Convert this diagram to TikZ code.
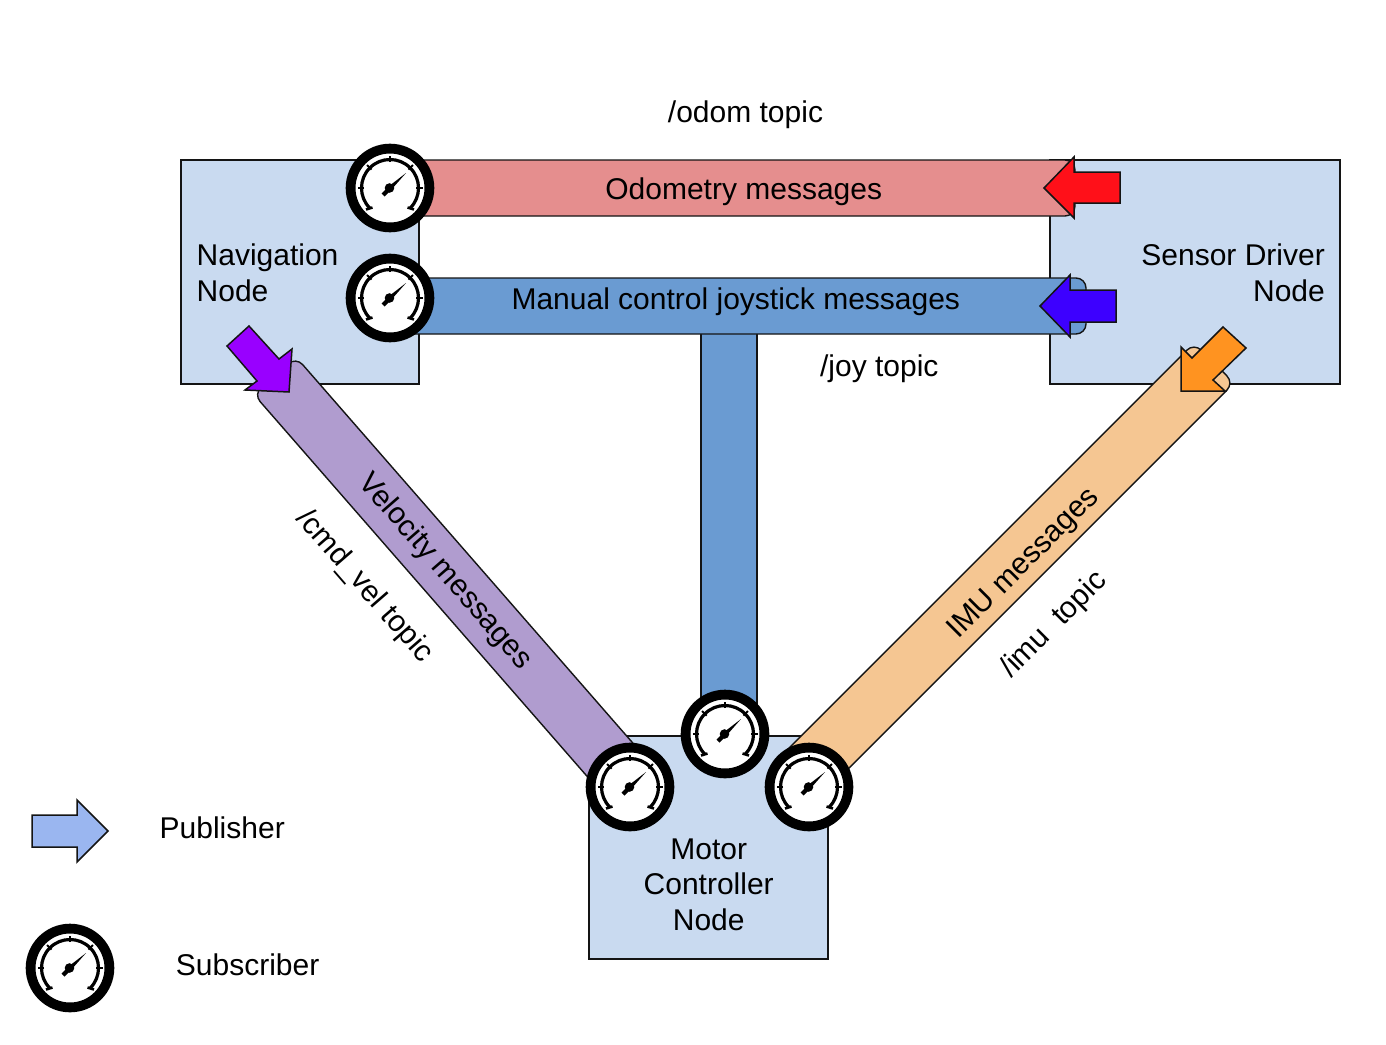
\documentclass[tikz,border=0pt]{standalone}
\usepackage{fontspec}
\setmainfont{Liberation Sans}
\definecolor{boxblue}{HTML}{C9DAF0}
\definecolor{barred}{HTML}{E58E8E}
\definecolor{barblue}{HTML}{6A9BD2}
\definecolor{barpurple}{HTML}{B09CCF}
\definecolor{barorange}{HTML}{F5C692}
\definecolor{pubred}{HTML}{FF1019}
\definecolor{pubblue}{HTML}{3D00FF}
\definecolor{pubpurple}{HTML}{9900FF}
\definecolor{puborange}{HTML}{FF9320}
\definecolor{publeg}{HTML}{9AB6F0}
\tikzset{
  x=1pt,y=-1pt,
  nodebox/.style={draw=black!92,line width=1.3,fill=boxblue},
  msgbar/.style={draw=black!92,line width=1.4,rounded corners=10},
  pubarrow/.style={draw=black!92,line width=1.5,line join=miter},
  lbl/.style={font=\fontsize{30}{36}\selectfont,inner sep=0,text=black},
  gauge/.pic={
    \begin{scope}[yscale=-1]
      \draw[fill=white,draw=black,line width=9.8] (0,0) circle (39.4);
      \draw[line width=3.2,black] (225:28.5) arc (225:-45:28.5);
      \foreach \a in {0,45,90,135,180}{\draw[line width=1.8,black] (\a:26) -- (\a:32.5);}
      \draw[line width=2.6,black] (-24,-21.5) -- (-17.5,-19.5);
      \draw[line width=2.6,black] (24,-21.5) -- (17.5,-19.5);
      \fill[black] (-0.5,0) circle (4.8);
      \fill[black] (16,15) -- (1.5,-1.5) -- (-5.5,-8.5) -- (-8.5,-5.5) -- (-1.5,1.5) -- cycle;
    \end{scope}
  }
}
\begin{document}
\begin{tikzpicture}
\useasboundingbox (0,0) rectangle (1386,1044);
\fill[white] (0,0) rectangle (1386,1044);
% node boxes
\draw[nodebox] (181,160) rectangle (419,384);
\draw[nodebox] (1050,160) rectangle (1340,384);
\draw[nodebox] (589,736) rectangle (828,959);
% message bars
\draw[msgbar,sharp corners,fill=barblue] (701,330) rectangle (757,705);
\draw[msgbar,fill=barred] (390,160) -- (1075,160) -- (1075,216) -- (390,216) -- cycle;
\draw[msgbar,fill=barblue] (390,278) -- (1086,278) -- (1086,334) -- (390,334) -- cycle;
\draw[msgbar,fill=barpurple] (296,357) -- (645,757) -- (602.5,794) -- (253.5,394) -- cycle;
\draw[msgbar,fill=barorange] (1194,343) -- (1234,383) -- (820,797) -- (780,757) -- cycle;
% publishers
\draw[pubarrow,fill=pubred] (1044,188) -- (1074,157) -- (1074,172) -- (1120,172) -- (1120,203) -- (1074,203) -- (1074,218) -- cycle;
\draw[pubarrow,fill=pubblue] (1040,306) -- (1070,275) -- (1070,290) -- (1116,290) -- (1116,322) -- (1070,322) -- (1070,337) -- cycle;
\draw[pubarrow,fill=pubpurple] (249,326) -- (279,359) -- (292,349) -- (289,392) -- (245,390) -- (257,381) -- (227,346) -- cycle;
\draw[pubarrow,fill=puborange] (1223,327) -- (1246,348) -- (1213,380) -- (1225,391) -- (1181,391) -- (1181,347) -- (1192,358) -- cycle;
\draw[pubarrow,fill=publeg] (32,815) -- (77,815) -- (77,800) -- (108,831) -- (77,862) -- (77,847) -- (32,847) -- cycle;
% subscribers
\pic at (390,188) {gauge};
\pic at (390,298) {gauge};
\pic at (725,734) {gauge};
\pic at (630,787) {gauge};
\pic at (809,787) {gauge};
\pic at (70,968) {gauge};
% labels
\node[lbl,anchor=base] (odomtopic) at (745.5,122) {/odom topic};
\node[lbl,anchor=base] (odommsg) at (743.7,199) {Odometry messages};
\node[lbl,anchor=base] (joymsg) at (735.8,309) {Manual control joystick messages};
\node[lbl,anchor=base] (joytopic) at (879.3,376) {/joy topic};
\node[lbl,anchor=base west] (nav1) at (196.5,265) {Navigation};
\node[lbl,anchor=base west] (nav2) at (196.5,301) {Node};
\node[lbl,anchor=base east] (sen1) at (1325,265) {Sensor Driver};
\node[lbl,anchor=base east] (sen2) at (1325,301) {Node};
\node[lbl,anchor=base] (mot1) at (708.7,859) {Motor};
\node[lbl,anchor=base] (mot2) at (708.7,894) {Controller};
\node[lbl,anchor=base] (mot3) at (708.7,930) {Node};
\node[lbl,rotate=-49] (velmsg) at (445,572) {Velocity messages};
\node[lbl,rotate=-49] (veltopic) at (364.2,586.5) {/cmd\_vel topic};
\node[lbl,rotate=45] (imumsg) at (1024,564) {IMU messages};
\node[lbl,rotate=45] (imutopic) at (1054,625) {/imu\ \ topic};
\node[lbl,anchor=base west] (legpub) at (159.5,838) {Publisher};
\node[lbl,anchor=base west] (legsub) at (175.7,975) {Subscriber};
\end{tikzpicture}
\end{document}
